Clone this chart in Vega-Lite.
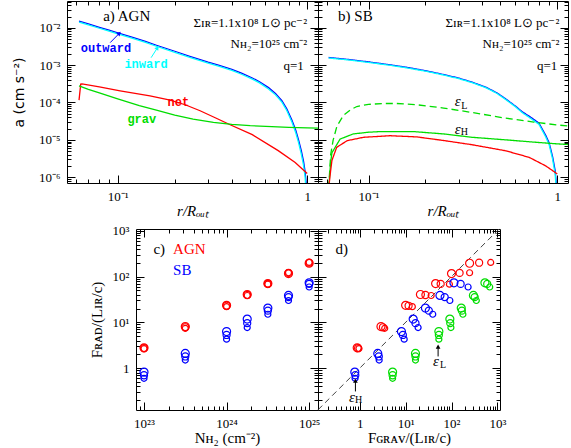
{
"$schema": "https://vega.github.io/schema/vega-lite/v6.json",
"autosize": {"type": "none"},
"padding": {"left": 67, "top": 1, "right": 504, "bottom": 447},
"background": "white",
"config": {
  "view": {"stroke": null},
  "axis": {"labelFont": "Liberation Serif", "labelFontSize": 13, "labelColor": "#000", "domainColor": "#000", "tickColor": "#000", "grid": false, "titleFont": "Liberation Serif", "titleFontSize": 15, "titleFontWeight": "normal", "titleColor": "#000", "labelOverlap": false, "labelBound": false, "labelFlush": false}
},
"datasets": {
  "A": [
    {"s":"outward","r":0.0625,"a":0.015},{"s":"outward","r":0.07,"a":0.0127},{"s":"outward","r":0.08,"a":0.0103},{"s":"outward","r":0.09,"a":0.0086},{"s":"outward","r":0.1,"a":0.0073},{"s":"outward","r":0.12,"a":0.0055},{"s":"outward","r":0.14,"a":0.0043},{"s":"outward","r":0.16,"a":0.0034},{"s":"outward","r":0.2,"a":0.00235},{"s":"outward","r":0.24,"a":0.00172},{"s":"outward","r":0.3,"a":0.0012},{"s":"outward","r":0.34,"a":0.001},{"s":"outward","r":0.4,"a":0.00077},{"s":"outward","r":0.45,"a":0.00061},{"s":"outward","r":0.51,"a":0.00046},{"s":"outward","r":0.56,"a":0.00036},{"s":"outward","r":0.625,"a":0.00025},{"s":"outward","r":0.68,"a":0.000175},{"s":"outward","r":0.735,"a":0.000112},{"s":"outward","r":0.78,"a":0.000068},{"s":"outward","r":0.83,"a":0.000034},{"s":"outward","r":0.87,"a":0.000018},{"s":"outward","r":0.9,"a":0.00001},{"s":"outward","r":0.93,"a":0.0000052},{"s":"outward","r":0.956,"a":0.0000027},{"s":"outward","r":0.975,"a":0.0000014},{"s":"outward","r":0.99,"a":0.0000006},{"s":"outward","r":0.997,"a":0.0000002},
    {"s":"inward","r":0.0625,"a":0.0142},{"s":"inward","r":0.07,"a":0.012},{"s":"inward","r":0.08,"a":0.0097},{"s":"inward","r":0.09,"a":0.0081},{"s":"inward","r":0.1,"a":0.0069},{"s":"inward","r":0.12,"a":0.0052},{"s":"inward","r":0.14,"a":0.00405},{"s":"inward","r":0.16,"a":0.0032},{"s":"inward","r":0.2,"a":0.0022},{"s":"inward","r":0.24,"a":0.00162},{"s":"inward","r":0.3,"a":0.00113},{"s":"inward","r":0.34,"a":0.00094},{"s":"inward","r":0.4,"a":0.00072},{"s":"inward","r":0.45,"a":0.00057},{"s":"inward","r":0.51,"a":0.00043},{"s":"inward","r":0.56,"a":0.000335},{"s":"inward","r":0.625,"a":0.00023},{"s":"inward","r":0.68,"a":0.00016},{"s":"inward","r":0.735,"a":0.000102},{"s":"inward","r":0.78,"a":0.000061},{"s":"inward","r":0.83,"a":0.00003},{"s":"inward","r":0.87,"a":0.0000155},{"s":"inward","r":0.9,"a":0.0000084},{"s":"inward","r":0.93,"a":0.0000042},{"s":"inward","r":0.956,"a":0.0000021},{"s":"inward","r":0.975,"a":0.000001},{"s":"inward","r":0.99,"a":0.0000003},
    {"s":"net","r":0.0625,"a":0.000116},{"s":"net","r":0.0638,"a":0.00031},{"s":"net","r":0.0648,"a":0.000316},{"s":"net","r":0.08,"a":0.00026},{"s":"net","r":0.103,"a":0.000205},{"s":"net","r":0.148,"a":0.000151},{"s":"net","r":0.189,"a":0.000115},{"s":"net","r":0.227,"a":0.000087},{"s":"net","r":0.272,"a":0.00006},{"s":"net","r":0.327,"a":0.000039},{"s":"net","r":0.392,"a":0.0000254},{"s":"net","r":0.513,"a":0.0000138},{"s":"net","r":0.703,"a":0.00000515},{"s":"net","r":0.864,"a":0.00000247},{"s":"net","r":1.0,"a":0.00000126},
    {"s":"grav","r":0.0625,"a":0.00028},{"s":"grav","r":0.07,"a":0.000225},{"s":"grav","r":0.08,"a":0.00018},{"s":"grav","r":0.1,"a":0.000125},{"s":"grav","r":0.13,"a":0.000083},{"s":"grav","r":0.16,"a":0.000062},{"s":"grav","r":0.2,"a":0.000046},{"s":"grav","r":0.25,"a":0.000036},{"s":"grav","r":0.32,"a":0.0000295},{"s":"grav","r":0.4,"a":0.000026},{"s":"grav","r":0.5,"a":0.000024},{"s":"grav","r":0.65,"a":0.0000225},{"s":"grav","r":0.8,"a":0.0000215},{"s":"grav","r":1.0,"a":0.0000208},{"s":"grav","r":1.14,"a":0.0000205}
  ],
  "B": [
    {"s":"outward","r":0.0615,"a":0.0016},{"s":"outward","r":0.08,"a":0.0014},{"s":"outward","r":0.1,"a":0.00122},{"s":"outward","r":0.13,"a":0.00102},{"s":"outward","r":0.16,"a":0.00087},{"s":"outward","r":0.2,"a":0.00071},{"s":"outward","r":0.25,"a":0.00056},{"s":"outward","r":0.3,"a":0.00045},{"s":"outward","r":0.354,"a":0.00035},{"s":"outward","r":0.42,"a":0.000255},{"s":"outward","r":0.48,"a":0.00018},{"s":"outward","r":0.533,"a":0.000125},{"s":"outward","r":0.6,"a":0.00008},{"s":"outward","r":0.654,"a":0.000056},{"s":"outward","r":0.72,"a":0.000041},{"s":"outward","r":0.8,"a":0.000028},{"s":"outward","r":0.87,"a":0.000013},{"s":"outward","r":0.906,"a":0.0000083},{"s":"outward","r":0.944,"a":0.0000036},{"s":"outward","r":0.975,"a":0.0000015},{"s":"outward","r":0.99,"a":0.0000006},{"s":"outward","r":0.997,"a":0.0000002},
    {"s":"inward","r":0.0615,"a":0.00155},{"s":"inward","r":0.08,"a":0.00136},{"s":"inward","r":0.1,"a":0.00118},{"s":"inward","r":0.13,"a":0.00099},{"s":"inward","r":0.16,"a":0.00084},{"s":"inward","r":0.2,"a":0.00069},{"s":"inward","r":0.25,"a":0.000543},{"s":"inward","r":0.3,"a":0.000436},{"s":"inward","r":0.354,"a":0.00034},{"s":"inward","r":0.42,"a":0.000247},{"s":"inward","r":0.48,"a":0.000174},{"s":"inward","r":0.533,"a":0.00012},{"s":"inward","r":0.6,"a":0.000077},{"s":"inward","r":0.654,"a":0.000053},{"s":"inward","r":0.72,"a":0.000038},{"s":"inward","r":0.8,"a":0.000026},{"s":"inward","r":0.87,"a":0.0000118},{"s":"inward","r":0.906,"a":0.0000074},{"s":"inward","r":0.944,"a":0.0000031},{"s":"inward","r":0.975,"a":0.0000012},{"s":"inward","r":0.99,"a":0.0000004},
    {"s":"epsL","r":0.0615,"a":0.0000005},{"s":"epsL","r":0.063,"a":0.000004},{"s":"epsL","r":0.065,"a":0.00001},{"s":"epsL","r":0.068,"a":0.000023},{"s":"epsL","r":0.0736,"a":0.000045},{"s":"epsL","r":0.08,"a":0.000063},{"s":"epsL","r":0.0867,"a":0.000078},{"s":"epsL","r":0.1,"a":0.000089},{"s":"epsL","r":0.12,"a":0.000094},{"s":"epsL","r":0.141,"a":0.000094},{"s":"epsL","r":0.18,"a":0.000087},{"s":"epsL","r":0.25,"a":0.000071},{"s":"epsL","r":0.354,"a":0.000054},{"s":"epsL","r":0.533,"a":0.000038},{"s":"epsL","r":0.75,"a":0.00003},{"s":"epsL","r":1.0,"a":0.000025},{"s":"epsL","r":1.14,"a":0.0000235},
    {"s":"epsH","r":0.0615,"a":0.0000005},{"s":"epsH","r":0.063,"a":0.0000025},{"s":"epsH","r":0.064,"a":0.0000045},{"s":"epsH","r":0.0707,"a":0.0000105},{"s":"epsH","r":0.083,"a":0.0000144},{"s":"epsH","r":0.1,"a":0.000016},{"s":"epsH","r":0.115,"a":0.0000166},{"s":"epsH","r":0.174,"a":0.0000166},{"s":"epsH","r":0.25,"a":0.0000144},{"s":"epsH","r":0.354,"a":0.0000117},{"s":"epsH","r":0.533,"a":0.00001},{"s":"epsH","r":0.75,"a":0.0000087},{"s":"epsH","r":1.0,"a":0.0000078},{"s":"epsH","r":1.14,"a":0.0000075},
    {"s":"net","r":0.0615,"a":0.0000005},{"s":"net","r":0.063,"a":0.0000015},{"s":"net","r":0.064,"a":0.0000028},{"s":"net","r":0.0678,"a":0.0000063},{"s":"net","r":0.0771,"a":0.0000095},{"s":"net","r":0.094,"a":0.0000117},{"s":"net","r":0.13,"a":0.0000129},{"s":"net","r":0.18,"a":0.000012},{"s":"net","r":0.25,"a":0.0000096},{"s":"net","r":0.354,"a":0.0000074},{"s":"net","r":0.533,"a":0.0000051},{"s":"net","r":0.71,"a":0.0000034},{"s":"net","r":0.87,"a":0.000002},{"s":"net","r":1.0,"a":0.00000123}
  ],
  "P": [
    {"t":"AGN","N":1e23,"g":0.88,"f":2.78,"k":1},{"t":"AGN","N":1e23,"g":0.92,"f":2.72,"k":2},{"t":"AGN","N":1e23,"g":0.96,"f":2.68,"k":3},
    {"t":"AGN","N":3.162e23,"g":2.9,"f":8.1,"k":1},{"t":"AGN","N":3.162e23,"g":3.2,"f":7.8,"k":2},{"t":"AGN","N":3.162e23,"g":3.5,"f":7.4,"k":3},
    {"t":"AGN","N":1e24,"g":10,"f":23.5,"k":1},{"t":"AGN","N":1e24,"g":11.6,"f":23,"k":2},{"t":"AGN","N":1e24,"g":14,"f":22,"k":3},
    {"t":"AGN","N":1.778e24,"g":21,"f":40.5,"k":1},{"t":"AGN","N":1.778e24,"g":27,"f":39.5,"k":2},{"t":"AGN","N":1.778e24,"g":36,"f":38.5,"k":3},
    {"t":"AGN","N":3.162e24,"g":45,"f":70,"k":1},{"t":"AGN","N":3.162e24,"g":58,"f":69,"k":2},{"t":"AGN","N":3.162e24,"g":90,"f":68,"k":3},
    {"t":"AGN","N":5.623e24,"g":100,"f":116,"k":1},{"t":"AGN","N":5.623e24,"g":150,"f":120,"k":2},{"t":"AGN","N":5.623e24,"g":248,"f":121,"k":3},
    {"t":"AGN","N":1e25,"g":248,"f":195,"k":1},{"t":"AGN","N":1e25,"g":400,"f":200,"k":2},{"t":"AGN","N":1e25,"g":715,"f":203,"k":3},
    {"t":"SBH","N":1e23,"g":0.78,"f":0.82,"k":1},{"t":"SBH","N":1e23,"g":0.8,"f":0.7,"k":2},{"t":"SBH","N":1e23,"g":0.79,"f":0.6,"k":3},
    {"t":"SBH","N":3.162e23,"g":2.47,"f":2.1,"k":1},{"t":"SBH","N":3.162e23,"g":2.6,"f":1.8,"k":2},{"t":"SBH","N":3.162e23,"g":2.65,"f":1.5,"k":3},
    {"t":"SBH","N":1e24,"g":8.1,"f":6.3,"k":1},{"t":"SBH","N":1e24,"g":8.7,"f":5.3,"k":2},{"t":"SBH","N":1e24,"g":9.3,"f":4.3,"k":3},
    {"t":"SBH","N":1.778e24,"g":14.6,"f":11.8,"k":1},{"t":"SBH","N":1.778e24,"g":16.4,"f":9.6,"k":2},{"t":"SBH","N":1.778e24,"g":18.7,"f":7.7,"k":3},
    {"t":"SBH","N":3.162e24,"g":27,"f":20.5,"k":1},{"t":"SBH","N":3.162e24,"g":32,"f":18,"k":2},{"t":"SBH","N":3.162e24,"g":39,"f":15,"k":3},
    {"t":"SBH","N":5.623e24,"g":56,"f":38.7,"k":1},{"t":"SBH","N":5.623e24,"g":71,"f":35.6,"k":2},{"t":"SBH","N":5.623e24,"g":92,"f":30,"k":3},
    {"t":"SBH","N":1e25,"g":113,"f":73,"k":1},{"t":"SBH","N":1e25,"g":158,"f":69,"k":2},{"t":"SBH","N":1e25,"g":230,"f":59,"k":3},
    {"t":"SBL","N":1e23,"g":5.2,"f":0.82,"k":1},{"t":"SBL","N":1e23,"g":5.2,"f":0.7,"k":2},{"t":"SBL","N":1e23,"g":5.2,"f":0.6,"k":3},
    {"t":"SBL","N":3.162e23,"g":16.4,"f":2.1,"k":1},{"t":"SBL","N":3.162e23,"g":16.4,"f":1.8,"k":2},{"t":"SBL","N":3.162e23,"g":16.4,"f":1.5,"k":3},
    {"t":"SBL","N":1e24,"g":53,"f":6.3,"k":1},{"t":"SBL","N":1e24,"g":53,"f":5.3,"k":2},{"t":"SBL","N":1e24,"g":53,"f":4.3,"k":3},
    {"t":"SBL","N":1.778e24,"g":92,"f":11.8,"k":1},{"t":"SBL","N":1.778e24,"g":94,"f":9.6,"k":2},{"t":"SBL","N":1.778e24,"g":97,"f":7.7,"k":3},
    {"t":"SBL","N":3.162e24,"g":163,"f":20.5,"k":1},{"t":"SBL","N":3.162e24,"g":168,"f":18,"k":2},{"t":"SBL","N":3.162e24,"g":177,"f":15,"k":3},
    {"t":"SBL","N":5.623e24,"g":300,"f":38.7,"k":1},{"t":"SBL","N":5.623e24,"g":320,"f":35.6,"k":2},{"t":"SBL","N":5.623e24,"g":347,"f":30,"k":3},
    {"t":"SBL","N":1e25,"g":535,"f":73,"k":1},{"t":"SBL","N":1e25,"g":600,"f":69,"k":2},{"t":"SBL","N":1e25,"g":680,"f":59,"k":3}
  ],
  "annA": [
    {"k":"hdr","r":0.0838,"a":0.0205,"txt":"a) AGN"},
    {"k":"par","r":1.0,"a":0.0136,"txt":"Σɪʀ=1.1x10⁸ L⊙ pc⁻²"},
    {"k":"par","r":1.0,"a":0.0036,"txt":"Nʜ₂=10²⁵ cm⁻²"},
    {"k":"par","r":0.96,"a":0.00095,"txt":"q=1"},
    {"k":"outward","r":0.0867,"a":0.00293,"txt":"outward"},
    {"k":"inward","r":0.141,"a":0.0011,"txt":"inward"},
    {"k":"net","r":0.209,"a":0.0001,"txt":"net"},
    {"k":"grav","r":0.134,"a":0.000036,"txt":"grav"}
  ],
  "arrA": [
    {"k":"outward","r":0.0913,"a":0.004,"r2":0.102,"a2":0.0071},
    {"k":"inward","r":0.15,"a":0.00158,"r2":0.162,"a2":0.0029}
  ],
  "annB": [
    {"k":"hdr","r":0.069,"a":0.0205,"txt":"b) SB"},
    {"k":"par","r":1.025,"a":0.0136,"txt":"Σɪʀ=1.1x10⁸ L⊙ pc⁻²"},
    {"k":"par","r":1.025,"a":0.0036,"txt":"Nʜ₂=10²⁵ cm⁻²"},
    {"k":"par","r":1.0,"a":0.00095,"txt":"q=1"},
    {"k":"eps","r":0.297,"a":0.00011,"txt":"ε"},
    {"k":"sub","r":0.322,"a":0.000082,"txt":"L"},
    {"k":"eps","r":0.297,"a":0.00002,"txt":"ε"},
    {"k":"sub","r":0.322,"a":0.0000158,"txt":"H"}
  ],
  "annC": [
    {"k":"c","N":1.3e23,"f":393,"txt":"c)"},
    {"k":"AGN","N":2.25e23,"f":393,"txt":"AGN"},
    {"k":"SB","N":2.25e23,"f":136,"txt":"SB"}
  ],
  "annD": [
    {"k":"hdr","g":0.295,"f":393,"txt":"d)"},
    {"k":"eps","g":0.68,"f":0.24,"txt":"ε"},
    {"k":"sub","g":0.95,"f":0.2,"txt":"H"},
    {"k":"eps","g":46,"f":1.4,"txt":"ε"},
    {"k":"sub","g":65,"f":1.18,"txt":"L"}
  ],
  "arrD": [
    {"g":0.805,"f":0.31,"g2":0.805,"f2":0.53},
    {"g":51,"f":1.8,"g2":51,"f2":2.95}
  ],
  "diag": [{"g":0.123,"f":0.123,"g2":1140,"f2":1140}]
},
"vconcat": [
 {"hconcat": [
    {"width": 251, "height": 182,
     "layer": [
       {"data": {"name": "A"}, "mark": {"type": "line", "clip": true, "strokeWidth": 1.3},
        "encoding": {
          "x": {"field": "r", "type": "quantitative", "scale": {"type": "log", "domain": [0.054, 1.14], "nice": false},
                "axis": {"orient": "bottom", "values": [0.06,0.07,0.08,0.09,0.1,0.2,0.3,0.4,0.5,0.6,0.7,0.8,0.9,1], "labelExpr": "datum.value==0.1?'10⁻¹':datum.value==1?'1':''", "tickSize": {"condition": {"test": "datum.value==0.1||datum.value==1", "value": -8}, "value": -4}, "labelPadding": 15, "title": "r/Rₒᵤₜ", "titleFontStyle": "italic", "titlePadding": -4}},
          "y": {"field": "a", "type": "quantitative", "scale": {"type": "log", "domain": [7e-7, 0.052], "nice": false},
                "axis": {"orient": "left", "values": [8e-7,9e-7,1e-6,2e-6,3e-6,4e-6,5e-6,6e-6,7e-6,8e-6,9e-6,1e-5,2e-5,3e-5,4e-5,5e-5,6e-5,7e-5,8e-5,9e-5,1e-4,2e-4,3e-4,4e-4,5e-4,6e-4,7e-4,8e-4,9e-4,0.001,0.002,0.003,0.004,0.005,0.006,0.007,0.008,0.009,0.01,0.02,0.03,0.04,0.05], "labelExpr": "datum.value==0.01?'10⁻²':datum.value==0.001?'10⁻³':datum.value==0.0001?'10⁻⁴':datum.value==0.00001?'10⁻⁵':datum.value==0.000001?'10⁻⁶':''", "tickSize": {"condition": {"test": "indexof([0.01,0.001,0.0001,0.00001,0.000001],datum.value)>=0", "value": -8}, "value": -4}, "labelPadding": 15, "title": "a (cm s⁻²)", "titleFont": "DejaVu Sans", "titleFontSize": 14, "titlePadding": 12}},
          "color": {"field": "s", "type": "nominal", "scale": {"domain": ["outward","inward","net","grav"], "range": ["#0000ff","#00ffff","#ff0000","#00dd00"]}, "legend": null}
        }},
       {"data": {"name": "A"}, "mark": {"type": "line", "opacity": 0},
        "encoding": {
          "x": {"field": "r", "type": "quantitative", "axis": {"orient": "top", "values": [0.06,0.07,0.08,0.09,0.1,0.2,0.3,0.4,0.5,0.6,0.7,0.8,0.9,1], "labels": false, "tickSize": {"condition": {"test": "datum.value==0.1||datum.value==1", "value": -8}, "value": -4}, "title": null}},
          "y": {"field": "a", "type": "quantitative", "axis": {"orient": "right", "values": [8e-7,9e-7,1e-6,2e-6,3e-6,4e-6,5e-6,6e-6,7e-6,8e-6,9e-6,1e-5,2e-5,3e-5,4e-5,5e-5,6e-5,7e-5,8e-5,9e-5,1e-4,2e-4,3e-4,4e-4,5e-4,6e-4,7e-4,8e-4,9e-4,0.001,0.002,0.003,0.004,0.005,0.006,0.007,0.008,0.009,0.01,0.02,0.03,0.04,0.05], "labels": false, "tickSize": {"condition": {"test": "indexof([0.01,0.001,0.0001,0.00001,0.000001],datum.value)>=0", "value": -8}, "value": -4}, "title": null}}
        }},
       {"data": {"name": "arrA"}, "mark": {"type": "rule", "strokeWidth": 1},
        "encoding": {"x": {"field": "r", "type": "quantitative", "axis": null}, "y": {"field": "a", "type": "quantitative", "axis": null}, "x2": {"field": "r2"}, "y2": {"field": "a2"}, "color": {"field": "k", "type": "nominal", "legend": null}}},
       {"data": {"name": "arrA"}, "transform": [{"filter": "datum.k=='outward'"}], "mark": {"type": "point", "shape": "triangle-up", "filled": true, "size": 22, "angle": 45, "opacity": 1},
        "encoding": {"x": {"field": "r2", "type": "quantitative", "axis": null}, "y": {"field": "a2", "type": "quantitative", "axis": null}, "color": {"field": "k", "type": "nominal", "legend": null}}},
       {"data": {"name": "arrA"}, "transform": [{"filter": "datum.k=='inward'"}], "mark": {"type": "point", "shape": "triangle-up", "filled": true, "size": 22, "angle": 33, "opacity": 1},
        "encoding": {"x": {"field": "r2", "type": "quantitative", "axis": null}, "y": {"field": "a2", "type": "quantitative", "axis": null}, "color": {"field": "k", "type": "nominal", "legend": null}}},
       {"data": {"name": "annA"}, "transform": [{"filter": "datum.k=='hdr'"}], "mark": {"type": "text", "align": "left", "baseline": "middle", "font": "Liberation Serif", "fontSize": 15, "color": "#000"},
        "encoding": {"x": {"field": "r", "type": "quantitative", "axis": null}, "y": {"field": "a", "type": "quantitative", "axis": null}, "text": {"field": "txt"}}},
       {"data": {"name": "annA"}, "transform": [{"filter": "datum.k=='par'"}], "mark": {"type": "text", "align": "right", "baseline": "middle", "font": "Liberation Serif", "fontSize": 13, "color": "#000"},
        "encoding": {"x": {"field": "r", "type": "quantitative", "axis": null}, "y": {"field": "a", "type": "quantitative", "axis": null}, "text": {"field": "txt"}}},
       {"data": {"name": "annA"}, "transform": [{"filter": "datum.k!='hdr'&&datum.k!='par'"}], "mark": {"type": "text", "align": "center", "baseline": "middle", "font": "Liberation Mono", "fontWeight": "bold", "fontSize": 12},
        "encoding": {"x": {"field": "r", "type": "quantitative", "axis": null}, "y": {"field": "a", "type": "quantitative", "axis": null}, "text": {"field": "txt"}, "color": {"field": "k", "type": "nominal", "legend": null}}}
     ],
     "resolve": {"axis": {"x": "independent", "y": "independent"}}
    },
    {"width": 250, "height": 182,
     "layer": [
       {"data": {"name": "B"}, "mark": {"type": "line", "clip": true, "strokeWidth": 1.3},
        "encoding": {
          "x": {"field": "r", "type": "quantitative", "scale": {"type": "log", "domain": [0.054, 1.14], "nice": false},
                "axis": {"orient": "bottom", "values": [0.06,0.07,0.08,0.09,0.1,0.2,0.3,0.4,0.5,0.6,0.7,0.8,0.9,1], "labelExpr": "datum.value==0.1?'10⁻¹':datum.value==1?'1':''", "tickSize": {"condition": {"test": "datum.value==0.1||datum.value==1", "value": -8}, "value": -4}, "labelPadding": 15, "title": "r/Rₒᵤₜ", "titleFontStyle": "italic", "titlePadding": -4}},
          "y": {"field": "a", "type": "quantitative", "scale": {"type": "log", "domain": [7e-7, 0.052], "nice": false},
                "axis": {"orient": "left", "values": [8e-7,9e-7,1e-6,2e-6,3e-6,4e-6,5e-6,6e-6,7e-6,8e-6,9e-6,1e-5,2e-5,3e-5,4e-5,5e-5,6e-5,7e-5,8e-5,9e-5,1e-4,2e-4,3e-4,4e-4,5e-4,6e-4,7e-4,8e-4,9e-4,0.001,0.002,0.003,0.004,0.005,0.006,0.007,0.008,0.009,0.01,0.02,0.03,0.04,0.05], "labels": false, "tickSize": {"condition": {"test": "indexof([0.01,0.001,0.0001,0.00001,0.000001],datum.value)>=0", "value": -8}, "value": -4}, "title": null}},
          "color": {"field": "s", "type": "nominal", "scale": {"domain": ["outward","inward","epsL","epsH","net"], "range": ["#0000ff","#00ffff","#00dd00","#00dd00","#ff0000"]}, "legend": null},
          "strokeDash": {"field": "s", "type": "nominal", "scale": {"domain": ["outward","inward","epsL","epsH","net"], "range": [[1,0],[1,0],[7,4],[1,0],[1,0]]}, "legend": null}
        }},
       {"data": {"name": "B"}, "mark": {"type": "line", "opacity": 0},
        "encoding": {
          "x": {"field": "r", "type": "quantitative", "axis": {"orient": "top", "values": [0.06,0.07,0.08,0.09,0.1,0.2,0.3,0.4,0.5,0.6,0.7,0.8,0.9,1], "labels": false, "tickSize": {"condition": {"test": "datum.value==0.1||datum.value==1", "value": -8}, "value": -4}, "title": null}},
          "y": {"field": "a", "type": "quantitative", "axis": {"orient": "right", "values": [8e-7,9e-7,1e-6,2e-6,3e-6,4e-6,5e-6,6e-6,7e-6,8e-6,9e-6,1e-5,2e-5,3e-5,4e-5,5e-5,6e-5,7e-5,8e-5,9e-5,1e-4,2e-4,3e-4,4e-4,5e-4,6e-4,7e-4,8e-4,9e-4,0.001,0.002,0.003,0.004,0.005,0.006,0.007,0.008,0.009,0.01,0.02,0.03,0.04,0.05], "labels": false, "tickSize": {"condition": {"test": "indexof([0.01,0.001,0.0001,0.00001,0.000001],datum.value)>=0", "value": -8}, "value": -4}, "title": null}}
        }},
       {"data": {"name": "annB"}, "transform": [{"filter": "datum.k=='hdr'"}], "mark": {"type": "text", "align": "left", "baseline": "middle", "font": "Liberation Serif", "fontSize": 15, "color": "#000"},
        "encoding": {"x": {"field": "r", "type": "quantitative", "axis": null}, "y": {"field": "a", "type": "quantitative", "axis": null}, "text": {"field": "txt"}}},
       {"data": {"name": "annB"}, "transform": [{"filter": "datum.k=='par'"}], "mark": {"type": "text", "align": "right", "baseline": "middle", "font": "Liberation Serif", "fontSize": 13, "color": "#000"},
        "encoding": {"x": {"field": "r", "type": "quantitative", "axis": null}, "y": {"field": "a", "type": "quantitative", "axis": null}, "text": {"field": "txt"}}},
       {"data": {"name": "annB"}, "transform": [{"filter": "datum.k=='eps'"}], "mark": {"type": "text", "align": "center", "baseline": "middle", "font": "Liberation Serif", "fontStyle": "italic", "fontSize": 15, "color": "#000"},
        "encoding": {"x": {"field": "r", "type": "quantitative", "axis": null}, "y": {"field": "a", "type": "quantitative", "axis": null}, "text": {"field": "txt"}}},
       {"data": {"name": "annB"}, "transform": [{"filter": "datum.k=='sub'"}], "mark": {"type": "text", "align": "center", "baseline": "middle", "font": "Liberation Serif", "fontSize": 10, "color": "#000"},
        "encoding": {"x": {"field": "r", "type": "quantitative", "axis": null}, "y": {"field": "a", "type": "quantitative", "axis": null}, "text": {"field": "txt"}}}
     ],
     "resolve": {"axis": {"x": "independent", "y": "independent"}}
    }
  ], "spacing": 0, "bounds": "flush", "resolve": {"scale": {"color": "independent", "strokeDash": "independent"}}},
 {"hconcat": [
    {"width": 69, "height": 181, "data": {"values": [{"v": 0}]}, "mark": {"type": "text", "text": ""}},
    {"width": 182, "height": 181,
     "layer": [
       {"data": {"name": "P"}, "transform": [{"filter": "datum.t!='SBL'"}], "mark": {"type": "point", "shape": "circle", "filled": false, "strokeWidth": 1.2, "opacity": 1},
        "encoding": {
          "x": {"field": "N", "type": "quantitative", "scale": {"type": "log", "domain": [8e22, 1.28e25], "nice": false},
                "axis": {"orient": "bottom", "values": [9e22,1e23,2e23,3e23,4e23,5e23,6e23,7e23,8e23,9e23,1e24,2e24,3e24,4e24,5e24,6e24,7e24,8e24,9e24,1e25], "labelExpr": "datum.value==1e23?'10²³':datum.value==1e24?'10²⁴':datum.value==1e25?'10²⁵':''", "tickSize": {"condition": {"test": "datum.value==1e23||datum.value==1e24||datum.value==1e25", "value": -8}, "value": -4}, "labelPadding": 15, "title": "Nʜ₂ (cm⁻²)", "titlePadding": -4}},
          "y": {"field": "f", "type": "quantitative", "scale": {"type": "log", "domain": [0.122, 1090], "nice": false},
                "axis": {"orient": "left", "values": [0.2,0.3,0.4,0.5,0.6,0.7,0.8,0.9,1,2,3,4,5,6,7,8,9,10,20,30,40,50,60,70,80,90,100,200,300,400,500,600,700,800,900,1000], "labelExpr": "datum.value==1?'1':datum.value==10?'10¹':datum.value==100?'10²':datum.value==1000?'10³':''", "tickSize": {"condition": {"test": "datum.value==1||datum.value==10||datum.value==100||datum.value==1000", "value": -8}, "value": -4}, "labelPadding": 15, "title": "Fʀᴀᴅ/(Lɪʀ/c)", "titlePadding": 8}},
          "color": {"field": "t", "type": "nominal", "scale": {"domain": ["AGN","SBH","SBL"], "range": ["#ff0000","#0000ff","#00dd00"]}, "legend": null},
          "size": {"field": "k", "type": "ordinal", "scale": {"domain": [1,2,3], "range": [64,36,18]}, "legend": null}
        }},
       {"data": {"name": "P"}, "mark": {"type": "point", "opacity": 0},
        "encoding": {
          "x": {"field": "N", "type": "quantitative", "axis": {"orient": "top", "values": [9e22,1e23,2e23,3e23,4e23,5e23,6e23,7e23,8e23,9e23,1e24,2e24,3e24,4e24,5e24,6e24,7e24,8e24,9e24,1e25], "labels": false, "tickSize": {"condition": {"test": "datum.value==1e23||datum.value==1e24||datum.value==1e25", "value": -8}, "value": -4}, "title": null}},
          "y": {"field": "f", "type": "quantitative", "axis": {"orient": "right", "values": [0.2,0.3,0.4,0.5,0.6,0.7,0.8,0.9,1,2,3,4,5,6,7,8,9,10,20,30,40,50,60,70,80,90,100,200,300,400,500,600,700,800,900,1000], "labels": false, "tickSize": {"condition": {"test": "datum.value==1||datum.value==10||datum.value==100||datum.value==1000", "value": -8}, "value": -4}, "title": null}}
        }},
       {"data": {"name": "annC"}, "transform": [{"filter": "datum.k=='c'"}], "mark": {"type": "text", "align": "left", "baseline": "middle", "font": "Liberation Serif", "fontSize": 15, "color": "#000"},
        "encoding": {"x": {"field": "N", "type": "quantitative", "axis": null}, "y": {"field": "f", "type": "quantitative", "axis": null}, "text": {"field": "txt"}}},
       {"data": {"name": "annC"}, "transform": [{"filter": "datum.k=='AGN'"}], "mark": {"type": "text", "align": "left", "baseline": "middle", "font": "Liberation Serif", "fontSize": 15, "color": "#ff0000"},
        "encoding": {"x": {"field": "N", "type": "quantitative", "axis": null}, "y": {"field": "f", "type": "quantitative", "axis": null}, "text": {"field": "txt"}}},
       {"data": {"name": "annC"}, "transform": [{"filter": "datum.k=='SB'"}], "mark": {"type": "text", "align": "left", "baseline": "middle", "font": "Liberation Serif", "fontSize": 15, "color": "#0000ff"},
        "encoding": {"x": {"field": "N", "type": "quantitative", "axis": null}, "y": {"field": "f", "type": "quantitative", "axis": null}, "text": {"field": "txt"}}}
     ],
     "resolve": {"axis": {"x": "independent", "y": "independent"}}
    },
    {"width": 182, "height": 181,
     "layer": [
       {"data": {"name": "diag"}, "mark": {"type": "rule", "color": "#444", "strokeDash": [6,4], "strokeWidth": 1},
        "encoding": {"x": {"field": "g", "type": "quantitative", "scale": {"type": "log", "domain": [0.123, 1140], "nice": false}, "axis": null}, "y": {"field": "f", "type": "quantitative", "scale": {"type": "log", "domain": [0.122, 1090], "nice": false}, "axis": null}, "x2": {"field": "g2"}, "y2": {"field": "f2"}}},
       {"data": {"name": "P"}, "mark": {"type": "point", "shape": "circle", "filled": false, "strokeWidth": 1.2, "opacity": 1},
        "encoding": {
          "x": {"field": "g", "type": "quantitative",
                "axis": {"orient": "bottom", "values": [0.2,0.3,0.4,0.5,0.6,0.7,0.8,0.9,1,2,3,4,5,6,7,8,9,10,20,30,40,50,60,70,80,90,100,200,300,400,500,600,700,800,900,1000], "labelExpr": "datum.value==1?'1':datum.value==10?'10¹':datum.value==100?'10²':datum.value==1000?'10³':''", "tickSize": {"condition": {"test": "datum.value==1||datum.value==10||datum.value==100||datum.value==1000", "value": -8}, "value": -4}, "labelPadding": 15, "title": "Fɢʀᴀᴠ/(Lɪʀ/c)", "titlePadding": -4}},
          "y": {"field": "f", "type": "quantitative",
                "axis": {"orient": "left", "values": [0.2,0.3,0.4,0.5,0.6,0.7,0.8,0.9,1,2,3,4,5,6,7,8,9,10,20,30,40,50,60,70,80,90,100,200,300,400,500,600,700,800,900,1000], "labels": false, "tickSize": {"condition": {"test": "datum.value==1||datum.value==10||datum.value==100||datum.value==1000", "value": -8}, "value": -4}, "title": null}},
          "color": {"field": "t", "type": "nominal", "scale": {"domain": ["AGN","SBH","SBL"], "range": ["#ff0000","#0000ff","#00dd00"]}, "legend": null},
          "size": {"field": "k", "type": "ordinal", "scale": {"domain": [1,2,3], "range": [64,36,18]}, "legend": null}
        }},
       {"data": {"name": "P"}, "mark": {"type": "point", "opacity": 0},
        "encoding": {
          "x": {"field": "g", "type": "quantitative", "axis": {"orient": "top", "values": [0.2,0.3,0.4,0.5,0.6,0.7,0.8,0.9,1,2,3,4,5,6,7,8,9,10,20,30,40,50,60,70,80,90,100,200,300,400,500,600,700,800,900,1000], "labels": false, "tickSize": {"condition": {"test": "datum.value==1||datum.value==10||datum.value==100||datum.value==1000", "value": -8}, "value": -4}, "title": null}},
          "y": {"field": "f", "type": "quantitative", "axis": {"orient": "right", "values": [0.2,0.3,0.4,0.5,0.6,0.7,0.8,0.9,1,2,3,4,5,6,7,8,9,10,20,30,40,50,60,70,80,90,100,200,300,400,500,600,700,800,900,1000], "labels": false, "tickSize": {"condition": {"test": "datum.value==1||datum.value==10||datum.value==100||datum.value==1000", "value": -8}, "value": -4}, "title": null}}
        }},
       {"data": {"name": "arrD"}, "mark": {"type": "rule", "color": "#000", "strokeWidth": 1},
        "encoding": {"x": {"field": "g", "type": "quantitative", "axis": null}, "y": {"field": "f", "type": "quantitative", "axis": null}, "x2": {"field": "g2"}, "y2": {"field": "f2"}}},
       {"data": {"name": "arrD"}, "mark": {"type": "point", "shape": "triangle-up", "filled": true, "size": 22, "color": "#000", "opacity": 1},
        "encoding": {"x": {"field": "g2", "type": "quantitative", "axis": null}, "y": {"field": "f2", "type": "quantitative", "axis": null}}},
       {"data": {"name": "annD"}, "transform": [{"filter": "datum.k=='hdr'"}], "mark": {"type": "text", "align": "left", "baseline": "middle", "font": "Liberation Serif", "fontSize": 15, "color": "#000"},
        "encoding": {"x": {"field": "g", "type": "quantitative", "axis": null}, "y": {"field": "f", "type": "quantitative", "axis": null}, "text": {"field": "txt"}}},
       {"data": {"name": "annD"}, "transform": [{"filter": "datum.k=='eps'"}], "mark": {"type": "text", "align": "center", "baseline": "middle", "font": "Liberation Serif", "fontStyle": "italic", "fontSize": 15, "color": "#000"},
        "encoding": {"x": {"field": "g", "type": "quantitative", "axis": null}, "y": {"field": "f", "type": "quantitative", "axis": null}, "text": {"field": "txt"}}},
       {"data": {"name": "annD"}, "transform": [{"filter": "datum.k=='sub'"}], "mark": {"type": "text", "align": "center", "baseline": "middle", "font": "Liberation Serif", "fontSize": 10, "color": "#000"},
        "encoding": {"x": {"field": "g", "type": "quantitative", "axis": null}, "y": {"field": "f", "type": "quantitative", "axis": null}, "text": {"field": "txt"}}}
     ],
     "resolve": {"axis": {"x": "independent", "y": "independent"}}
    }
  ], "spacing": 0, "bounds": "flush", "resolve": {"scale": {"color": "independent", "size": "independent"}}}
],
"spacing": 6,
"bounds": "full",
"resolve": {"scale": {"color": "independent", "size": "independent", "strokeDash": "independent"}}
}
